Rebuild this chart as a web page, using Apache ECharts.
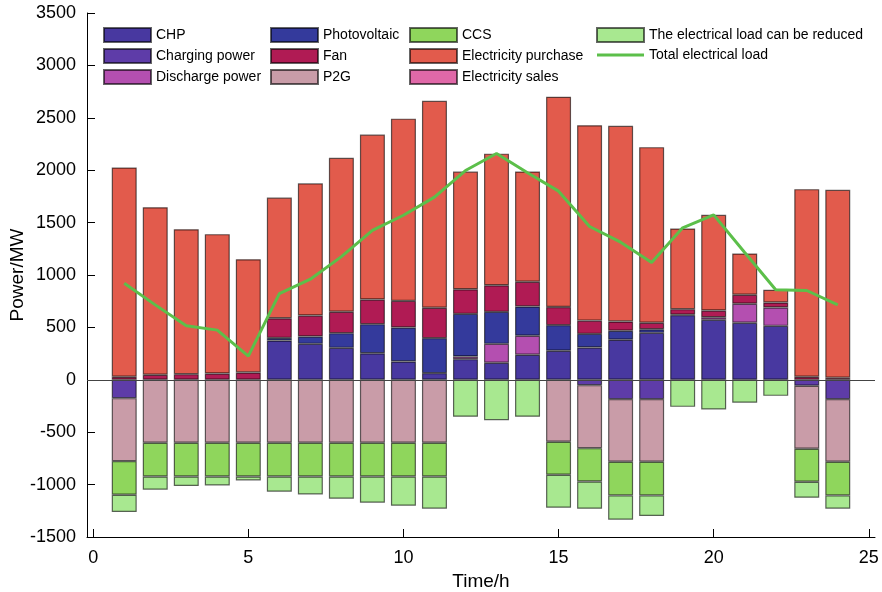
<!DOCTYPE html>
<html lang="en">
<head>
	<meta charset="UTF-8">
	<title>Power balance</title>
	<script src="https://cdn.jsdelivr.net/npm/echarts@6/dist/echarts.min.js"></script>
	<style>
		html, body { margin: 0; padding: 0; background: #fff; }
		#main { width: 882px; height: 592px; }
	</style>
</head>
<body>
	<div id="main"></div>
<script type="text/javascript">
// hours 1..24
var hours = [1,2,3,4,5,6,7,8,9,10,11,12,13,14,15,16,17,18,19,20,21,22,23,24];
var xTicks = [0,5,10,15,20,25];

// supply side (positive)
var chp       = [0,0,0,0,0,375,343,305,254,175,64,197,162,239,277,308,382,448,617,572,544,515,0,0];
var discharge = [0,0,0,0,0,0,0,0,0,0,0,25,181,181,0,0,0,0,0,25,181,175,0,0];
var pv        = [0,0,0,0,0,25,70,140,277,324,334,407,305,280,245,130,86,35,5,0,0,0,0,0];
var fan       = [29,48,54,60,70,188,200,204,235,254,289,235,254,235,172,127,89,61,52,64,86,48,29,19];
var purchase  = [1997,1599,1383,1330,1081,1151,1262,1469,1574,1739,1975,1123,1256,1053,2007,1864,1866,1676,770,913,394,121,1790,1794];
var sales     = [0,0,0,0,0,0,0,0,0,0,0,0,0,0,0,0,0,0,0,0,0,0,0,0];

// demand side (negative)
var charging  = [-175,0,0,0,0,0,0,0,0,0,0,0,0,0,0,-51,-184,-184,0,0,0,0,-57,-184];
var p2g       = [-601,-601,-601,-601,-601,-601,-601,-601,-601,-601,-601,0,0,0,-591,-601,-598,-598,0,0,0,0,-601,-598];
var ccs       = [-321,-321,-321,-321,-321,-321,-321,-321,-321,-321,-321,0,0,0,-315,-318,-321,-321,0,0,0,0,-315,-321];
var reduced   = [-165,-127,-92,-86,-38,-146,-172,-213,-251,-280,-308,-353,-385,-353,-315,-261,-232,-197,-258,-283,-219,-153,-153,-127];

// total load line
var load      = [922,715,515,474,226,822,960,1175,1425,1570,1743,1997,2159,1975,1800,1463,1313,1119,1450,1574,1215,859,852,716];

// grid 0 carries the visible value axes (x from -0.2 to 25.2),
// grid 1 is a hidden category grid lined up so hour k sits on x = k
var X_MIN = -0.2, X_MAX = 25.2;
var G_LEFT = 87, G_RIGHT = 7, G_TOP = 13, G_BOTTOM = 55, W = 882;
var unit = (W - G_LEFT - G_RIGHT) / (X_MAX - X_MIN);
var barLeft = G_LEFT + (hours[0] - 0.5 - X_MIN) * unit;
var barRight = W - (barLeft + hours.length * unit);

function barData(arr) {
	return arr.map(function (v) {
		var item = { value: v };
		if (v === 0) item.itemStyle = { borderWidth: 0 };
		return item;
	});
}

function bar(name, arr, color) {
	return {
		name: name,
		type: 'bar',
		stack: 'all',
		xAxisIndex: 1,
		yAxisIndex: 1,
		barWidth: 25,
		data: barData(arr),
		itemStyle: { color: color, borderColor: 'rgba(0,0,0,0.6)', borderWidth: 1.2 }
	};
}

var mychart = echarts.init(document.getElementById('main'));

var legendBase = {
	orient: 'vertical',
	top: 27,
	padding: 0,
	icon: 'rect',
	itemWidth: 47,
	itemHeight: 14,
	itemGap: 5,
	textStyle: { fontSize: 14, color: '#000' }
};

var series = [
	bar('CHP', chp, '#4838a0'),
	bar('Discharge power', discharge, '#b44fb0'),
	bar('Photovoltaic', pv, '#343a9c'),
	bar('Fan', fan, '#b01b54'),
	bar('Electricity purchase', purchase, '#e25b4c'),
	bar('Electricity sales', sales, '#e068a8'),
	bar('Charging power', charging, '#5e3ca8'),
	bar('P2G', p2g, '#c99ca8'),
	bar('CCS', ccs, '#8fd65c'),
	bar('The electrical load can be reduced', reduced, '#a8e890'),
	{
		name: 'Total electrical load',
		type: 'line',
		xAxisIndex: 0,
		yAxisIndex: 0,
		data: hours.map(function (h, i) { return [h, load[i]]; }),
		symbol: 'none',
		z: 5,
		lineStyle: { color: '#5cbf4a', width: 3 },
		itemStyle: { color: '#5cbf4a' },
		markLine: {
			silent: true,
			symbol: 'none',
			label: { show: false },
			lineStyle: { color: '#444', width: 1, type: 'solid' },
			data: [{ yAxis: 0 }]
		}
	}
];

option = {
	animation: false,
	textStyle: { fontFamily: 'Liberation Sans, Arial, sans-serif' },
	grid: [
		{ left: G_LEFT, right: G_RIGHT, top: G_TOP, bottom: G_BOTTOM, containLabel: false, outerBoundsMode: 'none' },
		{ left: barLeft, right: barRight, top: G_TOP, bottom: G_BOTTOM, containLabel: false, outerBoundsMode: 'none' }
	],
	legend: [
		Object.assign({}, legendBase, { left: 103, data: ['CHP', 'Charging power', 'Discharge power'] }),
		Object.assign({}, legendBase, { left: 270, data: ['Photovoltaic', 'Fan', 'P2G'] }),
		Object.assign({}, legendBase, { left: 409, data: ['CCS', 'Electricity purchase', 'Electricity sales'] }),
		Object.assign({}, legendBase, { left: 596, data: ['The electrical load can be reduced', { name: 'Total electrical load', icon: 'path://M0,0H47V3H0Z' }] })
	],
	xAxis: [{
		type: 'value',
		gridIndex: 0,
		min: X_MIN,
		max: X_MAX,
		name: 'Time/h',
		nameLocation: 'middle',
		nameGap: 31,
		nameTextStyle: { fontSize: 19, color: '#000' },
		axisLine: { onZero: false, lineStyle: { color: '#000', width: 1 } },
		axisTick: { inside: true, length: 8, customValues: xTicks, lineStyle: { color: '#000' } },
		axisLabel: { customValues: xTicks, fontSize: 18, color: '#000', margin: 12 },
		splitLine: { show: false }
	}, {
		type: 'category',
		gridIndex: 1,
		data: hours,
		show: false
	}],
	yAxis: [{
		type: 'value',
		gridIndex: 0,
		min: -1500,
		max: 3500,
		interval: 500,
		name: 'Power/MW',
		nameLocation: 'middle',
		nameGap: 60,
		nameMoveOverlap: false,
		nameTextStyle: { fontSize: 19, color: '#000' },
		axisLine: { show: true, onZero: false, lineStyle: { color: '#000', width: 1 } },
		axisTick: { show: true, inside: true, length: 8, lineStyle: { color: '#000' } },
		axisLabel: { fontSize: 18, color: '#000', margin: 11, formatter: function (v) { return String(v); } },
		splitLine: { show: false }
	}, {
		type: 'value',
		gridIndex: 1,
		min: -1500,
		max: 3500,
		interval: 500,
		show: false,
		splitLine: { show: false }
	}],
	series: series
};

mychart.setOption(option);
</script>
</body>
</html>
